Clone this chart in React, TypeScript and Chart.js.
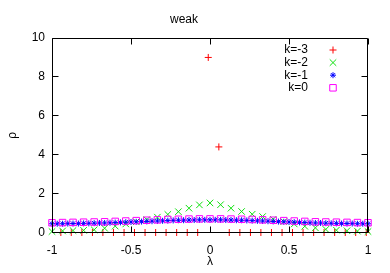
import React, { useEffect, useRef } from "react";
import { Chart, registerables } from "chart.js";
import { drawPoint } from "chart.js/helpers";

Chart.register(...registerables);

const FONT = '"Liberation Sans", Arial, sans-serif';

const chartTitle = "weak";
const xTitle = "λ";
const yTitle = "ρ";
const seriesLabels = ["k=-3", "k=-2", "k=-1", "k=0"];
const xTicks = [-1, -0.5, 0, 0.5, 1];
const yTicks = [0, 2, 4, 6, 8, 10];

const lambda31 = [
  -1, -0.933, -0.867, -0.8, -0.733, -0.667, -0.6, -0.533, -0.467, -0.4, -0.333,
  -0.267, -0.2, -0.133, -0.067, 0, 0.067, 0.133, 0.2, 0.267, 0.333, 0.4, 0.467,
  0.533, 0.6, 0.667, 0.733, 0.8, 0.867, 0.933, 1,
];

const lambdaKm3 = [
  -0.944, -0.878, -0.811, -0.744, -0.678, -0.611, -0.544, -0.478, -0.411, -0.344,
  -0.278, -0.211, -0.144, -0.078, -0.011, 0.056, 0.122, 0.189, 0.256, 0.322,
  0.389, 0.456, 0.522, 0.589, 0.656, 0.722, 0.789, 0.856, 0.922, 0.989,
];
const rhoKm3 = [
  0, 0, 0, 0, 0, 0, 0, 0, 0, 0, 0, 0, 0, 0, 9.0, 4.4, 0, 0, 0, 0, 0, 0, 0, 0, 0,
  0, 0, 0, 0, 0,
];

const rhoKm2 = [
  0.05, 0.08, 0.1, 0.11, 0.14, 0.22, 0.33, 0.44, 0.55, 0.66, 0.79, 0.93, 1.07,
  1.25, 1.42, 1.52, 1.43, 1.25, 1.08, 0.94, 0.82, 0.68, 0.56, 0.44, 0.32, 0.24,
  0.16, 0.12, 0.09, 0.07, 0.05,
];

const lambda61 = [
  -1, -0.967, -0.933, -0.9, -0.867, -0.833, -0.8, -0.767, -0.733, -0.7, -0.667,
  -0.633, -0.6, -0.567, -0.533, -0.5, -0.467, -0.433, -0.4, -0.367, -0.333, -0.3,
  -0.267, -0.233, -0.2, -0.167, -0.133, -0.1, -0.067, -0.033, 0, 0.033, 0.067,
  0.1, 0.133, 0.167, 0.2, 0.233, 0.267, 0.3, 0.333, 0.367, 0.4, 0.433, 0.467,
  0.5, 0.533, 0.567, 0.6, 0.633, 0.667, 0.7, 0.733, 0.767, 0.8, 0.833, 0.867,
  0.9, 0.933, 0.967, 1,
];
const rhoKm1 = [
  0.45, 0.45, 0.45, 0.46, 0.46, 0.46, 0.47, 0.47, 0.48, 0.49, 0.49, 0.5, 0.51,
  0.52, 0.53, 0.54, 0.55, 0.56, 0.57, 0.58, 0.59, 0.6, 0.61, 0.62, 0.63, 0.63,
  0.64, 0.64, 0.65, 0.65, 0.65, 0.65, 0.65, 0.64, 0.64, 0.63, 0.63, 0.62, 0.61,
  0.6, 0.59, 0.58, 0.57, 0.56, 0.55, 0.54, 0.53, 0.52, 0.51, 0.5, 0.49, 0.49,
  0.48, 0.47, 0.47, 0.46, 0.46, 0.46, 0.45, 0.45, 0.45,
];

const rhoK0 = [
  0.5, 0.51, 0.52, 0.53, 0.54, 0.55, 0.57, 0.59, 0.61, 0.63, 0.65, 0.67, 0.68,
  0.69, 0.7, 0.7, 0.7, 0.69, 0.68, 0.67, 0.65, 0.63, 0.61, 0.59, 0.57, 0.55,
  0.54, 0.53, 0.52, 0.51, 0.5,
];

const toPoints = (xs: number[], ys: number[]) =>
  xs.map((x, i) => ({ x, y: ys[i] }));

const frame = {
  id: "gpFrame",
  afterDatasetsDraw(chart: any) {
    const { ctx, chartArea: a, scales } = chart;
    const L = Math.round(a.left) + 0.5;
    const R = Math.round(a.right) - 0.5;
    const T = Math.round(a.top) + 0.5;
    const B = Math.floor(a.bottom) + 0.5;
    const len = 6;
    ctx.save();
    ctx.strokeStyle = "#000";
    ctx.lineWidth = 1;
    ctx.beginPath();
    ctx.rect(L, T, R - L, B - T);
    xTicks.forEach((v) => {
      const px = Math.round(scales.x.getPixelForValue(v)) + 0.5;
      ctx.moveTo(px, B);
      ctx.lineTo(px, B - len);
      ctx.moveTo(px, T);
      ctx.lineTo(px, T + len);
    });
    yTicks.forEach((v) => {
      const py = Math.floor(scales.y.getPixelForValue(v)) + 0.5;
      ctx.moveTo(L, py);
      ctx.lineTo(L + len, py);
      ctx.moveTo(R, py);
      ctx.lineTo(R - len, py);
    });
    ctx.stroke();

    // legend (gnuplot style: right-aligned label, sample to the right)
    ctx.font = `12px ${FONT}`;
    ctx.textAlign = "right";
    ctx.textBaseline = "middle";
    chart.data.datasets.forEach((ds: any, i: number) => {
      const y = a.top + 12 + i * 12.6;
      ctx.fillStyle = "#000";
      ctx.fillText(ds.label, a.right - 60, y);
      ctx.strokeStyle = ds.borderColor;
      ctx.fillStyle = "rgba(0,0,0,0)";
      ctx.lineWidth = 1;
      drawPoint(
        ctx,
        { pointStyle: ds.pointStyle, radius: ds.pointRadius, rotation: 0, borderWidth: 1 } as any,
        a.right - 35,
        y
      );
    });
    ctx.restore();
  },
};

export default function App() {
  const ref = useRef<HTMLCanvasElement | null>(null);
  useEffect(() => {
    document.body.style.margin = "0";
    const canvas = ref.current!;
    const mk = (label: string, data: any[], color: string, style: string, r: number, order: number) => ({
      label,
      data,
      borderColor: color,
      backgroundColor: "rgba(0,0,0,0)",
      pointStyle: style,
      pointRadius: r,
      pointBorderWidth: 1,
      borderWidth: 1,
      showLine: false,
      clip: false as any,
      order,
    });
    const chart = new Chart(canvas, {
      type: "scatter",
      data: {
        datasets: [
          mk(seriesLabels[0], toPoints(lambdaKm3, rhoKm3), "#ff0000", "cross", 3.5, 3),
          mk(seriesLabels[1], toPoints(lambda31, rhoKm2), "#10e010", "crossRot", 4.6, 2),
          mk(seriesLabels[2], toPoints(lambda61, rhoKm1), "#0000ff", "star", 3, 1),
          mk(seriesLabels[3], toPoints(lambda31, rhoK0), "#ff00ff", "rect", 4.6, 0),
        ] as any,
      },
      options: {
        responsive: false,
        animation: false,
        events: [],
        layout: { padding: { left: 0, right: 22, top: 0, bottom: 0 } },
        plugins: {
          legend: { display: false },
          tooltip: { enabled: false },
          title: {
            display: true,
            text: chartTitle,
            color: "#000",
            font: { family: FONT, size: 12, weight: "normal" },
            padding: { top: 12, bottom: 11.6 },
          },
        },
        scales: {
          x: {
            type: "linear",
            min: -1,
            max: 1,
            afterBuildTicks: (s: any) => {
              s.ticks = xTicks.map((v) => ({ value: v }));
            },
            afterFit: (s: any) => {
              s.height = 40.5;
            },
            ticks: {
              color: "#000",
              font: { family: FONT, size: 12 },
              padding: 10.5,
              maxRotation: 0,
              autoSkip: false,
              callback: (v: any) => String(v),
            },
            grid: { display: false, drawTicks: false },
            border: { display: false },
            title: {
              display: true,
              text: xTitle,
              color: "#000",
              font: { family: FONT, size: 12 },
              padding: { top: 0, bottom: 4 },
            },
          },
          y: {
            type: "linear",
            min: 0,
            max: 10,
            afterBuildTicks: (s: any) => {
              s.ticks = yTicks.map((v) => ({ value: v }));
            },
            afterFit: (s: any) => {
              s.width = 52;
            },
            ticks: {
              color: "#000",
              font: { family: FONT, size: 12 },
              padding: 7,
              autoSkip: false,
              callback: (v: any) => String(v),
            },
            grid: { display: false, drawTicks: false },
            border: { display: false },
            title: {
              display: true,
              text: yTitle,
              color: "#000",
              font: { family: FONT, size: 12 },
              padding: { top: 5, bottom: 0 },
            },
          },
        },
      } as any,
      plugins: [frame],
    });
    return () => chart.destroy();
  }, []);
  return (
    <div style={{ width: 390, height: 273 }}>
      <canvas ref={ref} width={390} height={273} />
    </div>
  );
}
